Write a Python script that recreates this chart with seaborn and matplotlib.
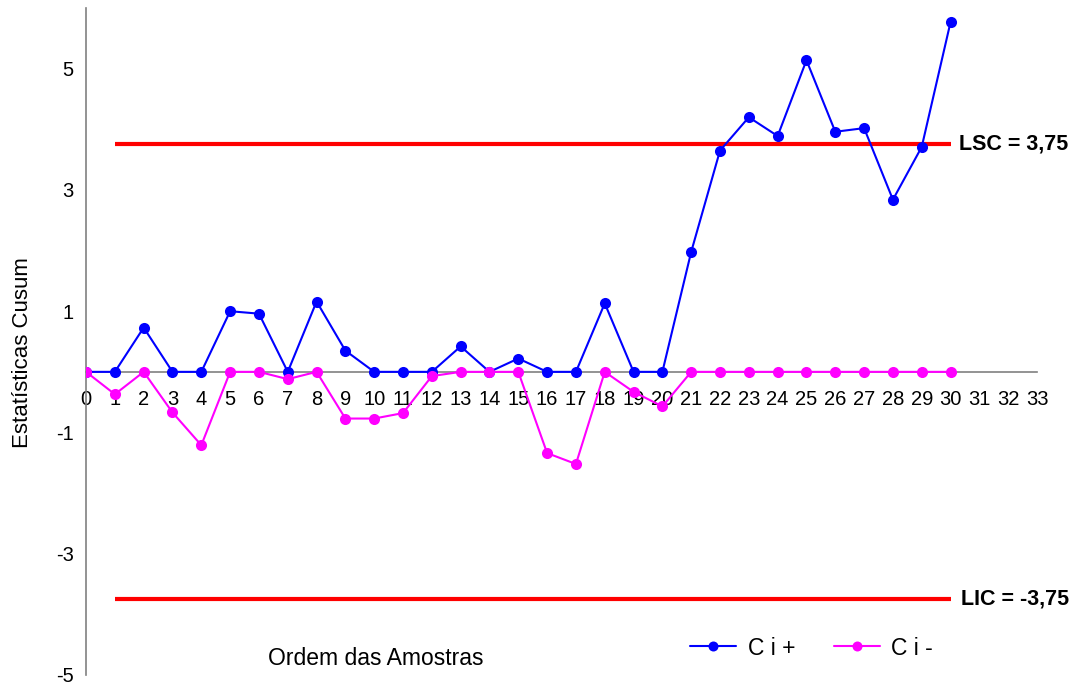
import numpy as np
import pandas as pd
import matplotlib
matplotlib.use("Agg")
import matplotlib.pyplot as plt
import seaborn as sns

# sample order and CUSUM statistics
amostras = list(range(31))
ci_mais = [0, 0, 0.73, 0, 0, 1.00, 0.96, 0, 1.16, 0.35,
           0, 0, 0, 0.42, 0, 0.22, 0, 0, 1.13, 0,
           0, 1.98, 3.65, 4.20, 3.89, 5.14, 3.96, 4.02, 2.84, 3.71,
           5.77]
ci_menos = [0, -0.37, 0, -0.67, -1.21, 0, 0, -0.12, 0, -0.77,
            -0.77, -0.68, -0.07, 0, 0, 0, -1.34, -1.52, 0, -0.33,
            -0.57, 0, 0, 0, 0, 0, 0, 0, 0, 0,
            0]
limites_x = [1, 30]
lsc = 3.75
lic = -3.75
series_nomes = ["C i +", "C i -"]
x_ticks = list(range(34))
y_ticks = [-5, -3, -1, 1, 3, 5]

df = pd.DataFrame({
    "Amostra": amostras * 2,
    "Valor": ci_mais + ci_menos,
    "Serie": [series_nomes[0]] * len(ci_mais) + [series_nomes[1]] * len(ci_menos),
})

sns.set_style("white")
plt.rcParams["font.family"] = ["Liberation Sans", "DejaVu Sans"]
plt.rcParams["text.color"] = "black"

fig = plt.figure(figsize=(10.81, 6.85), dpi=100)
ax = fig.add_axes([0.0796, 0.0146, 0.8797, 0.9736])

# control limits
ax.plot(limites_x, [lsc, lsc], color="#ff0000", lw=3, solid_capstyle="butt", zorder=1)
ax.plot(limites_x, [lic, lic], color="#ff0000", lw=3, solid_capstyle="butt", zorder=1)

sns.lineplot(data=df, x="Amostra", y="Valor", hue="Serie",
             palette={"C i +": "#0000ff", "C i -": "#ff00ff"},
             marker="o", markersize=8, markeredgewidth=0, lw=1.5,
             ax=ax, zorder=3)

ax.set_xlim(0, 33)
ax.set_ylim(-5, 6)
ax.set_xticks(x_ticks)
ax.set_yticks(y_ticks)
ax.set_xticklabels([str(t) for t in x_ticks])
ax.set_yticklabels([str(t) for t in y_ticks])

for s in ["top", "right"]:
    ax.spines[s].set_visible(False)
ax.spines["left"].set_position(("data", 0))
ax.spines["bottom"].set_position(("data", 0))
for s in ["left", "bottom"]:
    ax.spines[s].set_color("#808080")
    ax.spines[s].set_linewidth(1.2)
ax.tick_params(axis="both", direction="out", length=4, width=1, color="#808080",
               labelcolor="black", labelsize=14.5)
ax.tick_params(axis="x", pad=9)
ax.tick_params(axis="y", pad=5)
ax.set_xlabel("")
ax.set_ylabel("")

fig.text(0.021, 0.486, "Estatísticas Cusum", rotation=90, fontsize=16,
         ha="center", va="center", color="black")
fig.text(0.348, 0.039, "Ordem das Amostras", fontsize=16.5, ha="center",
         va="center", color="black")

ax.text(30.3, lsc, "LSC = 3,75", fontsize=15.5, fontweight="bold",
        ha="left", va="center", color="black")
ax.text(30.35, lic, "LIC = -3,75", fontsize=15.5, fontweight="bold",
        ha="left", va="center", color="black")

handles, labels = ax.get_legend_handles_labels()
leg = ax.legend(handles, labels, loc="center", bbox_to_anchor=(0.751, 0.054),
                bbox_transform=fig.transFigure, ncol=2, frameon=False, fontsize=16.5,
                handlelength=2.0, columnspacing=1.7, handletextpad=0.5, markerscale=0.9)
for t in leg.get_texts():
    t.set_color("black")

fig.savefig("out.png", dpi=100)
